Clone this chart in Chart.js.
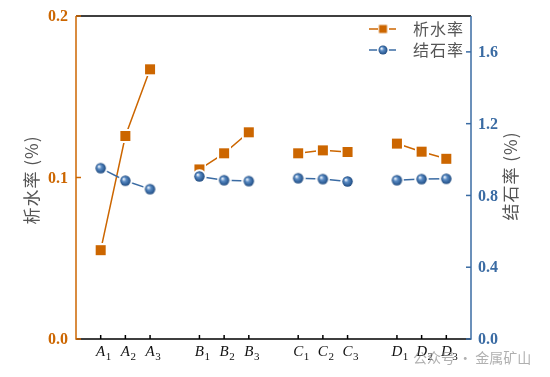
<!DOCTYPE html>
<html>
<head>
<meta charset="utf-8">
<script src="https://cdn.jsdelivr.net/npm/chart.js@4/dist/chart.umd.min.js"></script>
<style>
    body { margin: 0; background: #fff; }
    canvas { display: block; }
</style>
</head>
<body>
<canvas id="grafico" width="550" height="377"></canvas>
<script>
// dados
const grupos = ['A', 'B', 'C', 'D'];
const niveis = ['1', '2', '3'];
const posicoes = [1, 2, 3, 5, 6, 7, 9, 10, 11, 13, 14, 15];
const xiShuiLu = [0.055, 0.1257, 0.167, 0.105, 0.115, 0.128, 0.115, 0.1168, 0.1158, 0.121, 0.116, 0.1116];
const jieShiLu = [0.952, 0.882, 0.835, 0.906, 0.885, 0.880, 0.896, 0.891, 0.878, 0.885, 0.891, 0.893];
const ticksEsq = [0.0, 0.1, 0.2];
const ticksDir = [0.0, 0.4, 0.8, 1.2, 1.6];

const laranja = '#CC6600';
const azul = '#3A6BA3';

// monta pontos com quebra entre os grupos
function montarPontos(valores) {
    const pts = [];
    valores.forEach((v, i) => {
        if (i > 0 && i % 3 === 0) pts.push({ x: posicoes[i] - 1, y: null });
        pts.push({ x: posicoes[i], y: v });
    });
    return pts;
}

function marcadorQuadrado(lado, margem) {
    const c = document.createElement('canvas');
    const t = lado + margem * 2;
    c.width = t; c.height = t;
    const g = c.getContext('2d');
    g.fillStyle = '#fff';
    g.fillRect(0, 0, t, t);
    g.fillStyle = laranja;
    g.fillRect(margem, margem, lado, lado);
    return c;
}

function marcadorEsfera(r, margem) {
    const c = document.createElement('canvas');
    const t = Math.ceil(r * 2 + margem * 2);
    c.width = t; c.height = t;
    const g = c.getContext('2d');
    const m = t / 2;
    g.fillStyle = '#fff';
    g.beginPath(); g.arc(m, m, r + margem, 0, Math.PI * 2); g.fill();
    const grad = g.createRadialGradient(m - r * 0.35, m - r * 0.35, 0.5, m, m, r);
    grad.addColorStop(0, '#e8f0fa');
    grad.addColorStop(0.35, '#5b8cc4');
    grad.addColorStop(0.8, '#2f5f98');
    grad.addColorStop(1, '#244d80');
    g.fillStyle = grad;
    g.beginPath(); g.arc(m, m, r, 0, Math.PI * 2); g.fill();
    return c;
}

const quadrado = marcadorQuadrado(10, 2);
const esfera = marcadorEsfera(5.2, 2);

const desenhoEixos = {
    id: 'desenhoEixos',
    afterDraw(chart) {
        const ctx = chart.ctx;
        const a = chart.chartArea;
        const sx = chart.scales.x, se = chart.scales.yEsq, sd = chart.scales.yDir;
        ctx.save();
        ctx.lineWidth = 1.5;

        // moldura
        ctx.strokeStyle = '#000';
        ctx.beginPath();
        ctx.moveTo(a.left, a.top); ctx.lineTo(a.right, a.top);
        ctx.moveTo(a.left, a.bottom); ctx.lineTo(a.right, a.bottom);
        ctx.stroke();
        ctx.strokeStyle = laranja;
        ctx.beginPath(); ctx.moveTo(a.left, a.top); ctx.lineTo(a.left, a.bottom + 0.75); ctx.stroke();
        ctx.strokeStyle = azul;
        ctx.beginPath(); ctx.moveTo(a.right, a.top); ctx.lineTo(a.right, a.bottom + 0.75); ctx.stroke();

        // eixo esquerdo
        ctx.font = 'bold 16px "Liberation Serif"';
        ctx.textAlign = 'right';
        ctx.textBaseline = 'middle';
        ctx.fillStyle = laranja;
        ctx.strokeStyle = laranja;
        ticksEsq.forEach(v => {
            const y = se.getPixelForValue(v);
            ctx.beginPath(); ctx.moveTo(a.left, y); ctx.lineTo(a.left + 5, y); ctx.stroke();
            ctx.fillText(v.toFixed(1), a.left - 8, y + 1);
        });

        // eixo direito
        ctx.textAlign = 'left';
        ctx.fillStyle = azul;
        ctx.strokeStyle = azul;
        ticksDir.forEach(v => {
            const y = sd.getPixelForValue(v);
            ctx.beginPath(); ctx.moveTo(a.right, y); ctx.lineTo(a.right - 5, y); ctx.stroke();
            ctx.fillText(v.toFixed(1), a.right + 7, y + 1);
        });

        // eixo x com subscritos
        ctx.strokeStyle = '#000';
        ctx.fillStyle = '#111';
        ctx.textBaseline = 'alphabetic';
        posicoes.forEach((p, i) => {
            const x = sx.getPixelForValue(p);
            ctx.beginPath(); ctx.moveTo(x, a.bottom); ctx.lineTo(x, a.bottom - 4); ctx.stroke();
            const letra = grupos[Math.floor(i / 3)];
            const sub = niveis[i % 3];
            ctx.font = 'italic 15px "Liberation Serif"';
            const wl = ctx.measureText(letra).width;
            ctx.textAlign = 'left';
            ctx.fillText(letra, x - wl / 2, 356);
            ctx.font = '11px "Liberation Serif"';
            ctx.fillText(sub, x + wl / 2 + 0.5, 360);
        });

        // titulos dos eixos
        ctx.font = '17px "Noto Sans CJK SC"';
        ctx.letterSpacing = '1px';
        ctx.textAlign = 'center';
        ctx.textBaseline = 'middle';
        ctx.fillStyle = '#555';
        ctx.save();
        ctx.translate(32, 180);
        ctx.rotate(-Math.PI / 2);
        ctx.fillText('析水率 (%)', 0, 0);
        ctx.restore();
        ctx.save();
        ctx.translate(511, 176);
        ctx.rotate(-Math.PI / 2);
        ctx.fillText('结石率 (%)', 0, 0);
        ctx.restore();

        // legenda
        const itens = [
            { txt: '析水率', cor: laranja, img: marcadorQuadrado(8, 1.5), y: 29 },
            { txt: '结石率', cor: azul, img: marcadorEsfera(4.5, 1.5), y: 50 }
        ];
        ctx.font = '16px "Noto Sans CJK SC"';
        ctx.letterSpacing = '1px';
        ctx.textAlign = 'left';
        itens.forEach(it => {
            ctx.strokeStyle = it.cor;
            ctx.beginPath(); ctx.moveTo(369, it.y); ctx.lineTo(396, it.y); ctx.stroke();
            ctx.drawImage(it.img, 383 - it.img.width / 2, it.y - it.img.height / 2);
            ctx.fillStyle = '#555';
            ctx.fillText(it.txt, 413, it.y);
        });

        // marca d'agua
        ctx.letterSpacing = '0px';
        ctx.font = '14px "Noto Sans CJK SC"';
        ctx.fillStyle = 'rgba(150,150,150,0.75)';
        ctx.fillText('公众号 · 金属矿山', 413, 358);
        ctx.restore();
    }
};

new Chart(document.getElementById('grafico'), {
    type: 'line',
    data: {
        datasets: [{
            label: '结石率',
            data: montarPontos(jieShiLu),
            yAxisID: 'yDir',
            borderColor: azul,
            borderWidth: 1.5,
            pointStyle: esfera,
            spanGaps: false,
            order: 0
        }, {
            label: '析水率',
            data: montarPontos(xiShuiLu),
            yAxisID: 'yEsq',
            borderColor: laranja,
            borderWidth: 1.5,
            pointStyle: quadrado,
            spanGaps: false,
            order: 1
        }]
    },
    options: {
        responsive: false,
        animation: false,
        layout: {
            padding: { left: 76, right: 79, top: 16, bottom: 38 }
        },
        plugins: {
            legend: { display: false },
            tooltip: { enabled: false }
        },
        scales: {
            x: { type: 'linear', min: 0, max: 16, display: false },
            yEsq: { type: 'linear', position: 'left', min: 0, max: 0.2, display: false },
            yDir: { type: 'linear', position: 'right', min: 0, max: 1.8, display: false }
        }
    },
    plugins: [desenhoEixos]
});
</script>
</body>
</html>
